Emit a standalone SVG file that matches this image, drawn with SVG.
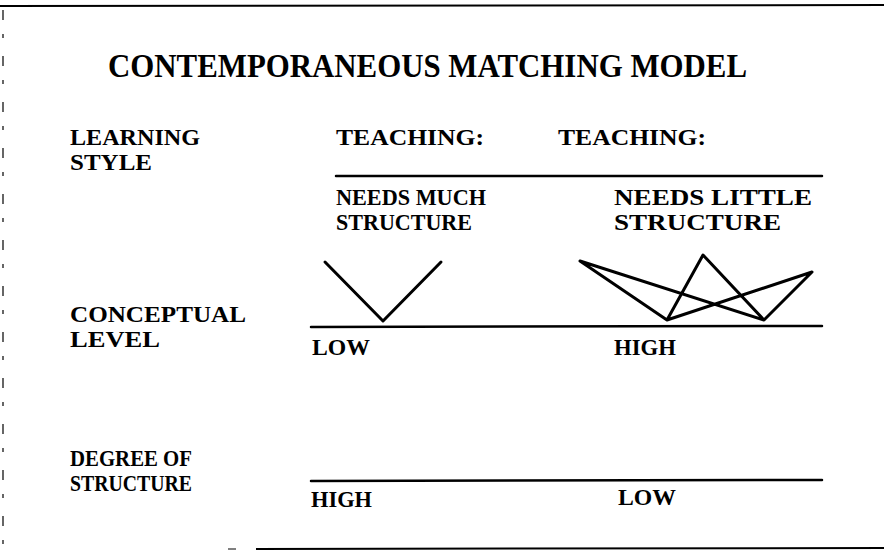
<svg xmlns="http://www.w3.org/2000/svg" width="884" height="552" viewBox="0 0 884 552">
<style>
text{font-family:"Liberation Serif","Times New Roman",serif;font-weight:bold;fill:#000}
.t{font-size:34px}
.l{font-size:23px}
.ln{stroke:#000;stroke-width:2.5;fill:none;stroke-linecap:round;stroke-linejoin:round}
.sh{stroke:#000;stroke-width:3;fill:none;stroke-linecap:round;stroke-linejoin:round}
.fr{stroke:#000;fill:none}
</style>
<rect width="884" height="552" fill="#fff"/>
<g id="frame">
<line class="fr" x1="0" y1="6" x2="884" y2="5" stroke-width="2"/>
<line class="fr" x1="3" y1="10" x2="3" y2="545" stroke-width="1.2" stroke-dasharray="10,14,4,18"/>
<line class="fr" x1="256" y1="549" x2="884" y2="548" stroke-width="2"/>
<line class="fr" x1="228" y1="549" x2="236" y2="549" stroke-width="1"/>
</g>
<g id="title"><text class="t" x="108" y="77" textLength="639" lengthAdjust="spacingAndGlyphs">CONTEMPORANEOUS MATCHING MODEL</text></g>
<g id="learning-style">
<text class="l" x="70" y="145" textLength="130" lengthAdjust="spacingAndGlyphs">LEARNING</text>
<text class="l" x="70" y="170" textLength="82" lengthAdjust="spacingAndGlyphs">STYLE</text>
</g>
<g id="teaching-1">
<text class="l" x="336" y="145" textLength="148" lengthAdjust="spacingAndGlyphs">TEACHING:</text>
<text class="l" x="336" y="205" textLength="150" lengthAdjust="spacingAndGlyphs">NEEDS MUCH</text>
<text class="l" x="336" y="230" textLength="136" lengthAdjust="spacingAndGlyphs">STRUCTURE</text>
</g>
<g id="teaching-2">
<text class="l" x="706" y="145" text-anchor="end" textLength="148" lengthAdjust="spacingAndGlyphs">TEACHING:</text>
<text class="l" x="614" y="205" textLength="198" lengthAdjust="spacingAndGlyphs">NEEDS LITTLE</text>
<text class="l" x="614" y="230" textLength="167" lengthAdjust="spacingAndGlyphs">STRUCTURE</text>
</g>
<g id="conceptual-level">
<text class="l" x="70" y="322" textLength="176" lengthAdjust="spacingAndGlyphs">CONCEPTUAL</text>
<text class="l" x="70" y="347" textLength="90" lengthAdjust="spacingAndGlyphs">LEVEL</text>
<text class="l" x="312" y="355" textLength="58" lengthAdjust="spacingAndGlyphs">LOW</text>
<text class="l" x="614" y="355" textLength="62" lengthAdjust="spacingAndGlyphs">HIGH</text>
</g>
<g id="degree-of-structure">
<text class="l" x="70" y="466" textLength="122" lengthAdjust="spacingAndGlyphs">DEGREE OF</text>
<text class="l" x="70" y="491" textLength="122" lengthAdjust="spacingAndGlyphs">STRUCTURE</text>
<text class="l" x="311" y="507" textLength="61" lengthAdjust="spacingAndGlyphs">HIGH</text>
<text class="l" x="618" y="505" textLength="58" lengthAdjust="spacingAndGlyphs">LOW</text>
</g>
<g id="connectors">
<line class="ln" x1="336" y1="176" x2="822" y2="176"/>
<line class="ln" x1="311" y1="327" x2="822" y2="326"/>
<line class="ln" x1="311" y1="481" x2="822" y2="480"/>
<polyline class="sh" points="325,262 383,321 441,262"/>
<path class="sh" d="M580,261 L667,320 L703,255 L764,320 Z M580,261 L764,320 L812,272 L667,320"/>
</g>
</svg>
